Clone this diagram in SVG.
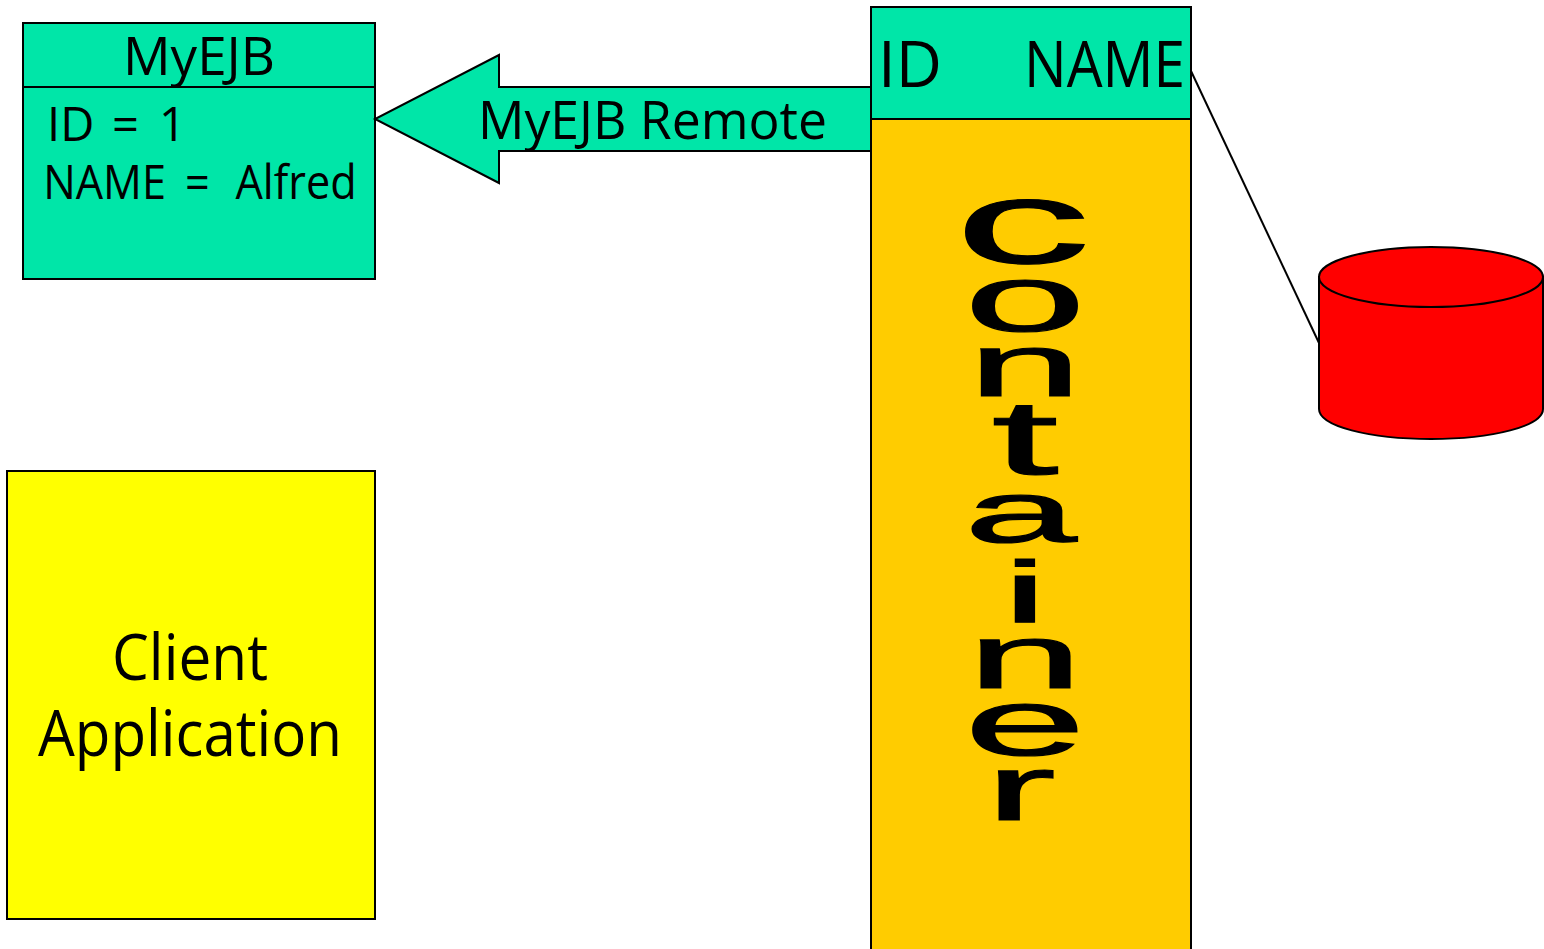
<svg xmlns="http://www.w3.org/2000/svg" width="1544" height="949" viewBox="0 0 1544 949">
<style>
.s{stroke:#000;stroke-width:2}
text{font-family:"Open Sans","Liberation Sans",sans-serif;fill:#000}
.w{font-family:"Liberation Sans",sans-serif;font-size:100px;text-anchor:middle;stroke:#000;stroke-width:1.2}
.m{text-anchor:middle}
</style>
<rect width="1544" height="949" fill="#fff"/>
<g id="connectors">
<line class="s" x1="1191" y1="71" x2="1319" y2="343"/>
</g>
<g id="myejb">
<rect class="s" x="23" y="23" width="352" height="256" fill="#00e6a8"/>
<line class="s" x1="23" y1="87" x2="375" y2="87"/>
<text class="m" x="199" y="75" font-size="53" textLength="152" lengthAdjust="spacingAndGlyphs">MyEJB</text>
<text y="141" font-size="47"><tspan x="47">ID </tspan><tspan x="112">= </tspan><tspan x="159">1</tspan></text>
<text transform="translate(0 199) scale(.92 1)" y="0" font-size="47"><tspan x="47">NAME </tspan><tspan x="201">= </tspan><tspan x="256">Alfred</tspan></text>
</g>
<g id="remote">
<path class="s" d="M871 87H499V55L375 119L499 183V151H871Z" fill="#00e6a8"/>
<text x="478" y="139" font-size="53" textLength="349" lengthAdjust="spacingAndGlyphs">MyEJB Remote</text>
</g>
<g id="client">
<rect class="s" x="7" y="471" width="368" height="448" fill="#ff0"/>
<text class="m" x="190" y="680" font-size="64" textLength="156" lengthAdjust="spacingAndGlyphs">Client</text>
<text class="m" x="190" y="756" font-size="64" textLength="304" lengthAdjust="spacingAndGlyphs">Application</text>
</g>
<g id="container">
<rect class="s" x="871" y="119" width="320" height="840" fill="#ffcc00"/>
<rect class="s" x="871" y="7" width="320" height="112" fill="#00e6a8"/>
<text x="878" y="87" font-size="64" textLength="64" lengthAdjust="spacingAndGlyphs">ID</text>
<text x="1024" y="87" font-size="64" textLength="161" lengthAdjust="spacingAndGlyphs">NAME</text>
<text class="w" transform="translate(1025 0) scale(2.3 1)"><tspan x="-1" y="263" font-size="118">c</tspan><tspan x="0" y="331" font-size="95">o</tspan><tspan x="0" y="396" font-size="89">n</tspan><tspan x="0" y="474" font-size="105">t</tspan><tspan x="-2" y="542" font-size="88">a</tspan><tspan x="0" y="622" font-size="87">i</tspan><tspan x="0" y="688" font-size="90">n</tspan><tspan x="0" y="755" font-size="95">e</tspan><tspan x="-2" y="820" font-size="92">r</tspan></text>
</g>
<g id="database">
<path class="s" d="M1319 277V409C1319 426 1369 439 1431 439S1543 426 1543 409V277Z" fill="#f00"/>
<ellipse class="s" cx="1431" cy="277" rx="112" ry="30" fill="#f00"/>
</g>
</svg>
